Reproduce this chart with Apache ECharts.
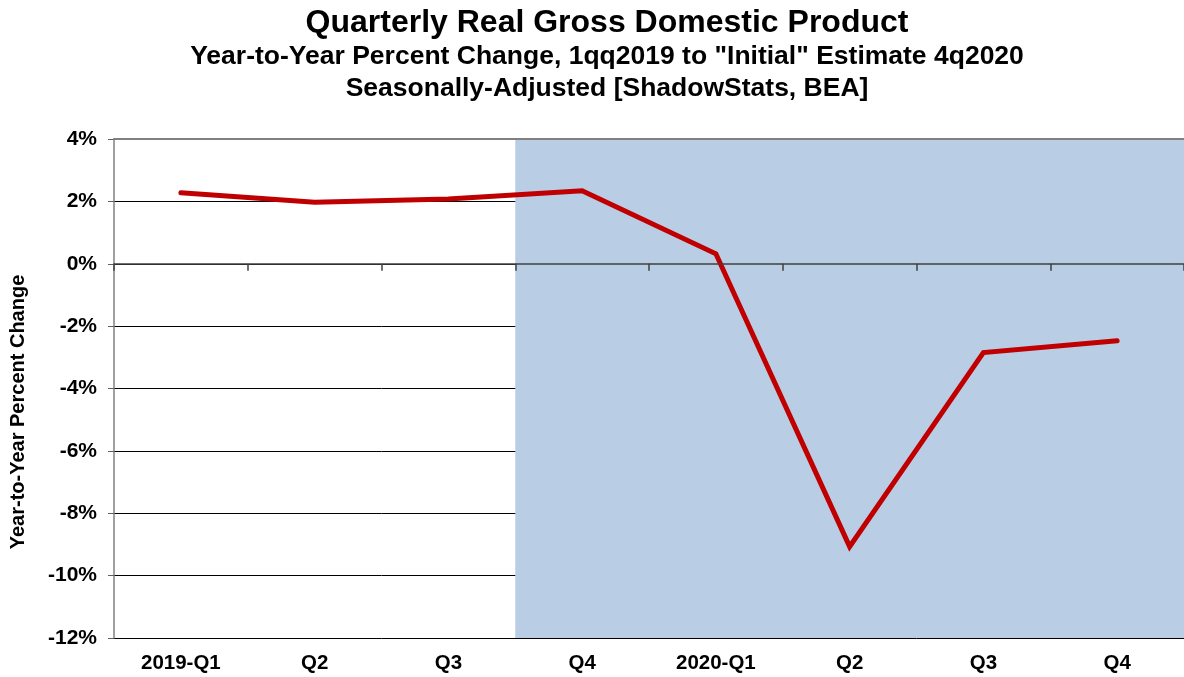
<!DOCTYPE html>
<html>
<head>
<meta charset="utf-8">
<script src="https://cdn.jsdelivr.net/npm/echarts@6/dist/echarts.min.js"></script>
<style>
html,body{margin:0;padding:0;background:#fff;}
#chart{width:1184px;height:677px;}
</style>
</head>
<body>
<div id="chart"></div>
<script>
const categories = ['2019-Q1', 'Q2', 'Q3', 'Q4', '2020-Q1', 'Q2', 'Q3', 'Q4'];
const gdpYoY = [2.28, 1.97, 2.08, 2.34, 0.32, -9.07, -2.85, -2.47];
const shadedFromIndex = 3; // shading begins at 2019-Q4
const yTicks = { min: -12, max: 4, interval: 2 };
const titleLines = [
  'Quarterly Real Gross Domestic Product',
  'Year-to-Year Percent Change, 1qq2019 to "Initial" Estimate 4q2020',
  'Seasonally-Adjusted [ShadowStats, BEA]'
];
const yAxisTitle = 'Year-to-Year Percent Change';

const FONT = "'Liberation Sans', Arial, sans-serif";
const SHADE = '#b9cde4';
const shadeColors = categories.map((c, i) => i >= shadedFromIndex ? SHADE : 'rgba(0,0,0,0)');

const chart = echarts.init(document.getElementById('chart'), null, { renderer: 'canvas' });
chart.setOption({
  animation: false,
  backgroundColor: '#ffffff',
  title: [
    { text: titleLines[0], left: 602, top: 2, textAlign: 'center',
      textStyle: { fontFamily: FONT, fontWeight: 'bold', fontSize: 32, color: '#000' } },
    { text: titleLines[1], left: 602, top: 38, textAlign: 'center',
      textStyle: { fontFamily: FONT, fontWeight: 'bold', fontSize: 26.5, color: '#000' } },
    { text: titleLines[2], left: 602, top: 70, textAlign: 'center',
      textStyle: { fontFamily: FONT, fontWeight: 'bold', fontSize: 26.5, color: '#000' } }
  ],
  graphic: [{
    type: 'text', x: 18, y: 412, rotation: Math.PI / 2,
    style: { text: yAxisTitle, fontFamily: FONT, fontWeight: 'bold', fontSize: 20,
             fill: '#000', textAlign: 'center', textVerticalAlign: 'middle' }
  }],
  grid: { left: 114, right: 0, top: 139, bottom: 39, containLabel: false },
  xAxis: [
    { type: 'category', data: categories, position: 'bottom', boundaryGap: true, z: 1,
      axisLine: { show: false, onZero: false }, axisTick: { show: false },
      axisLabel: { fontFamily: FONT, fontWeight: 'bold', fontSize: 20.5, color: '#000', margin: 15 },
      splitLine: { show: false },
      splitArea: { show: true, areaStyle: { color: shadeColors } } },
    { type: 'category', data: categories, position: 'bottom', boundaryGap: true, z: 5,
      axisLine: { show: true, onZero: true, lineStyle: { color: '#404040', width: 1.5 } },
      axisTick: { show: true, length: 7, lineStyle: { color: '#404040', width: 1.5 } },
      axisLabel: { show: false }, splitLine: { show: false } },
    { type: 'category', data: categories, position: 'top', boundaryGap: true, z: 5,
      axisLine: { show: true, onZero: false, lineStyle: { color: '#808080', width: 2 } },
      axisTick: { show: false }, axisLabel: { show: false }, splitLine: { show: false } }
  ],
  yAxis: {
    type: 'value', min: yTicks.min, max: yTicks.max, interval: yTicks.interval,
    axisLine: { show: true, lineStyle: { color: '#808080', width: 1.5 } },
    axisTick: { show: true, length: 6, lineStyle: { color: '#606060', width: 1 } },
    axisLabel: { formatter: '{value}%', fontFamily: FONT, fontWeight: 'bold', fontSize: 21, color: '#000', margin: 17 },
    splitLine: { show: true, lineStyle: { color: '#000', width: 1 } }
  },
  series: [{
    type: 'line', data: gdpYoY, xAxisIndex: 0, z: 4,
    showSymbol: false, symbol: 'none',
    lineStyle: { color: '#c00000', width: 5, cap: 'round', join: 'miter' },
    itemStyle: { color: '#c00000' }
  }]
});
</script>
</body>
</html>
